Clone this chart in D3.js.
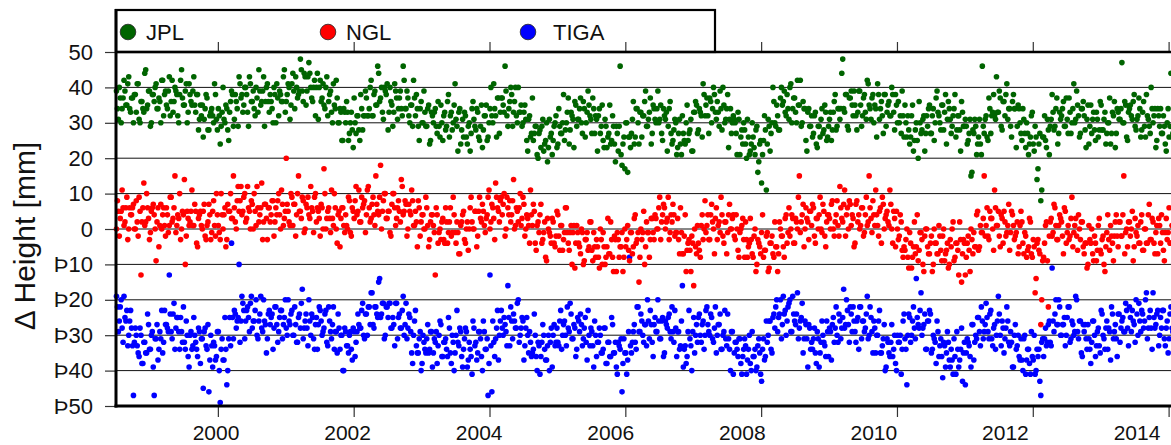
<!DOCTYPE html>
<html>
<head>
<meta charset="utf-8">
<script src="https://cdn.jsdelivr.net/npm/d3@7"></script>
<style>
  body { margin: 0; background: #fff; }
  svg { display: block; }
  text { font-family: "Liberation Sans", Arial, Helvetica, sans-serif; fill: #111; }
</style>
</head>
<body>
<svg id="chart" width="1171" height="445"></svg>
<script>
// sampling: six readings per month from July 1998, stored as two
// interleaved lists (A = 1st, 3rd, 5th reading; B = 2nd, 4th, 6th)
const startYear = 1998.5;
const slotsPerYear = 36;

const seriesNames = ['JPL', 'NGL', 'TIGA'];
const yearTicks = [2000, 2002, 2004, 2006, 2008, 2010, 2012, 2014];
const heightTicks = [-50, -40, -30, -20, -10, 0, 10, 20, 30, 40, 50];

// height differences in mm
const jplHeightsA = [
  39,31,37,34,42,35,41,34,37,30,38,41,31,36,34,44,34,39, // 1998 Jul-Dec
  29,38,36,41,34,36,42,32,39,34,43,36,33,40,38,30,42,37,35,41,33,38,35,43,33,38,31,32,26,34,37,28,33,32,41,31, // 1999
  34,24,33,31,35,28,33,39,29,38,34,43,37,33,40,38,29,41,36,34,40,33,39,36,43,36,41,33,36,30,38,41,32,38,36,45, // 2000
  36,41,31,41,39,43,37,39,45,36,43,39,47,40,36,42,40,31,42,37,35,40,32,38,33,41,34,37,30,33,25,33,36,25,30,28, // 2001
  37,27,32,25,34,32,39,32,34,42,32,39,35,44,37,33,40,38,28,40,35,33,39,31,37,34,46,34,39,32,35,29,37,38,29,34, // 2002
  30,39,29,34,24,33,30,34,27,29,35,25,33,29,38,32,28,35,31,22,34,28,26,32,24,30,27,36,29,34,26,29,23,32,35,26, // 2003
  34,32,41,32,37,27,37,35,46,32,34,40,29,36,32,40,33,29,33,31,22,32,27,25,29,21,27,23,31,24,30,23,26,21,29,32, // 2004
  24,29,27,38,28,33,24,33,31,36,29,31,37,27,34,30,39,32,27,34,32,22,34,29,25,31,23,27,24,32,24,29,22,46,18,26, // 2005
  30,16,26,27,36,26,34,24,33,32,36,29,31,37,27,34,30,39,31,27,34,31,22,34,27,25,31,21,27,24,32,25,30,25,28,22, // 2006
  33,36,27,34,32,41,32,37,27,36,34,38,31,33,39,28,35,31,38,31,27,32,30,21,31,26,24,28,20,26,22,30,23,28,16,24, // 2007
  13,25,28,24,29,27,40,30,35,28,37,35,39,32,34,40,30,37,33,42,35,29,36,34,22,34,29,26,32,24,29,26,34,28,33,26, // 2008
  31,25,33,38,29,34,34,48,33,38,28,37,35,39,32,33,39,29,37,33,42,35,31,38,35,26,38,34,32,38,29,35,32,40,33,38, // 2009
  30,30,27,32,35,26,28,26,35,25,30,20,30,28,32,27,29,35,27,34,30,39,32,28,35,33,24,36,31,29,34,26,32,28,36,29, // 2010
  31,24,27,15,28,31,21,26,24,46,27,32,25,34,32,38,31,33,39,29,36,32,41,34,29,36,34,23,35,30,25,31,23,27,24,32, // 2011
  24,29,14,24,8,26,32,23,28,29,38,28,34,24,33,32,36,29,31,37,27,34,30,39,32,27,34,32,23,35,29,27,33,25,31,28, // 2012
  35,28,33,27,30,24,33,36,27,33,31,47,30,35,25,34,32,36,29,31,37,26,33,29,38,31,27,34,32,23,34,29,27,32,24,30, // 2013
  26,44,27 // 2014 Jan
];
const jplHeightsB = [
  34,40,30,37,39,35,43,33,37,38,33,41,30,36,33,45,35,39, // 1998 Jul-Dec
  30,38,40,34,37,30,42,38,35,39,32,42,36,39,32,38,45,35,39,30,41,36,39,35,38,28,35,35,31,38,28,32,34,30,38,28, // 1999
  32,29,40,30,34,25,36,38,31,36,29,41,38,35,40,33,43,36,39,32,37,45,35,39,29,40,36,38,34,40,30,37,39,36,43,33, // 2000
  38,40,35,44,34,40,38,48,39,44,35,43,44,37,40,32,44,40,36,41,34,43,36,39,30,35,42,30,34,25,34,30,33,27,33,23, // 2001
  30,32,28,38,28,32,37,32,40,32,38,35,46,36,40,31,39,41,33,36,29,41,37,34,39,32,42,34,37,30,35,42,32,34,25,36, // 2002
  30,33,29,35,25,32,33,29,36,26,30,32,28,36,26,33,30,41,29,33,24,31,33,26,29,22,34,31,28,33,25,35,28,32,25,30, // 2003
  40,30,34,26,37,33,37,33,39,29,36,38,33,40,30,33,35,30,35,25,31,26,37,27,29,20,28,29,22,25,19,31,27,25,30,23, // 2004
  34,27,30,25,30,37,28,32,23,35,31,34,30,36,26,33,35,31,37,27,31,32,27,35,23,29,26,35,25,29,19,27,29,21,24,17, // 2005
  30,26,23,31,24,34,30,33,26,32,39,29,33,24,35,31,34,30,35,25,32,33,29,36,24,28,30,23,31,21,27,24,35,27,31,22, // 2006
  33,35,28,33,26,38,35,32,37,30,40,33,36,29,34,40,30,34,23,34,30,31,27,33,21,28,30,24,31,21,24,26,21,29,19,25, // 2007
  21,32,11,31,22,30,36,29,32,28,40,36,33,38,31,41,34,37,30,35,42,30,34,25,33,29,32,27,33,23,29,31,27,35,25,29, // 2008
  33,28,36,28,34,31,44,34,38,29,37,39,32,35,28,39,35,32,38,31,41,34,37,30,34,41,31,36,27,38,33,36,32,38,28,35, // 2009
  36,32,39,26,30,32,24,32,22,28,25,36,27,31,22,32,34,27,32,25,37,33,30,35,28,38,31,34,27,32,38,28,32,22,33,29, // 2010
  29,25,31,16,27,29,24,31,21,29,31,26,37,27,33,32,43,33,37,28,36,38,31,34,26,38,34,29,34,27,34,27,30,21,26,33, // 2011
  22,26,17,27,11,26,25,31,21,31,33,29,37,27,31,34,29,37,27,33,30,41,31,35,26,34,36,28,31,24,35,31,28,33,26,36, // 2012
  28,31,24,30,37,27,32,23,34,31,34,30,36,26,33,35,31,38,28,32,34,28,36,26,32,29,40,30,34,25,32,34,27,29,22,34, // 2013
  29,26,31 // 2014 Jan
];

const nglHeightsA = [
  0,5,3,11,1,6,-3,6,4,7,0,2,9,-13,6,1,10,3, // 1998 Jul-Dec
  -1,6,4,-9,6,1,0,6,-2,4,1,9,3,15,1,3,-3,5,14,-2,3,2,11,1,5,-5,4,1,5,-2,1,7,-3,5,1,10, // 1999
  1,-3,4,4,-5,7,5,3,15,2,8,5,12,5,10,3,6,0,7,10,1,6,4,13,2,7,-3,6,4,8,2,4,10,0,7,3, // 2000
  20,5,1,9,7,-2,10,5,3,8,0,6,4,12,5,9,2,5,-2,6,17,0,5,3,11,1,6,-4,5,3,6,-1,1,9,-1,6, // 2001
  3,12,5,2,9,7,-1,11,6,3,9,1,7,4,18,5,10,3,5,-1,7,10,1,6,5,14,4,8,-2,7,4,8,1,2,8,-2, // 2002
  4,0,9,1,-3,4,1,-13,4,-1,-3,3,-4,2,-1,6,-1,4,-4,-1,-7,2,5,-4,2,0,9,0,5,-5,5,3,7,1,3,9, // 2003
  0,7,3,13,6,2,9,7,-2,9,4,2,8,0,6,2,10,3,7,0,3,-4,4,7,-4,1,-1,7,-3,2,-9,0,-2,3,-4,-2, // 2004
  4,-6,1,-3,6,-1,-6,1,-1,-11,1,-4,-7,-1,-9,-3,-6,2,-6,-1,-8,-5,-11,-3,-1,-10,-5,-7,2,-8,-2,-12,-3,-5,-1,-8, // 2005
  -5,1,-9,-1,-5,4,-3,-15,0,-1,-10,2,-1,-3,3,-3,3,0,9,2,7,0,3,-3,4,7,-2,-1,-3,6,-7,-2,-12,-4,-6,-2, // 2006
  -16,-5,1,-6,1,-3,8,1,-3,4,2,-7,6,1,-1,4,-4,2,-1,7,0,4,-3,0,-8,0,3,-8,-3,-5,3,-7,-2,-12,-3,-5, // 2007
  -1,-8,-6,-1,-11,-4,-7,2,-5,-7,0,-2,-8,4,-1,-2,4,-4,3,0,15,2,7,0,3,-3,5,7,-2,3,0,9,-1,5,-5,4, // 2008
  3,7,0,2,8,-2,6,2,11,4,0,7,4,-5,7,2,0,6,-2,4,1,15,3,8,1,4,-2,6,9,0,4,2,11,0,5,-5, // 2009
  0,-2,2,-8,-6,0,-11,-4,-8,2,-5,-9,-1,-3,-12,0,-5,-7,-2,-10,-4,-7,1,-6,-2,-9,-6,-11,-3,0,-9,-4,-6,2,-15,-3, // 2010
  -13,-4,-6,0,-7,-5,4,-6,1,-1,15,1,-2,5,3,-6,6,1,-2,4,-4,2,-1,7,-1,4,-3,-1,-7,1,2,-7,-2,-6,3,-7, // 2011
  -3,-18,-4,-6,-27,-9,-4,2,-22,2,-2,7,1,-3,4,2,-7,5,-1,-3,3,-5,1,-2,4,-3,2,-7,-4,-10,-3,0,-9,-4,-6,3, // 2012
  -7,-2,-12,-1,-3,1,-4,-2,4,-5,2,-2,15,-1,-5,2,0,-9,3,-2,-4,2,-6,0,-4,4,-3,3,-4,-1,-7,1,4,-6,-1,-3, // 2013
  6,-4,1 // 2014 Jan
];
const nglHeightsB = [
  8,-2,5,6,2,9,0,4,6,0,8,-2,5,2,13,2,6,-3, // 1998 Jul-Dec
  5,7,0,2,-5,7,4,1,6,-1,9,2,6,-1,4,10,0,4,-10,5,1,5,1,7,-4,3,5,0,7,-3,2,4,-1,8,-2,4, // 1999
  -1,10,0,6,-3,5,10,3,6,0,12,8,4,9,2,12,5,8,0,5,12,2,6,-3,7,3,6,2,8,-2,6,8,4,11,1,5, // 2000
  7,2,10,1,7,4,15,5,9,-1,7,9,3,6,-1,10,6,3,7,0,10,3,6,-1,3,10,0,4,-5,6,1,4,0,8,-2,5, // 2001
  8,4,11,2,6,8,4,12,2,7,4,15,5,9,0,8,10,3,5,-2,10,6,3,8,2,12,5,7,0,5,11,1,5,-5,6,2, // 2002
  4,0,6,-5,2,4,-1,6,-4,0,2,-3,6,-4,2,-2,9,-1,2,-7,1,4,-3,0,-6,6,2,0,5,-2,9,2,5,-1,4,11, // 2003
  2,6,-3,9,5,8,4,10,0,6,8,4,14,1,5,6,1,9,-2,4,1,11,1,5,-6,2,4,-4,-1,-8,3,-1,-4,2,-5,5, // 2004
  -2,1,-6,-1,6,-4,-1,-10,1,-4,-1,-5,0,-10,-3,-1,-5,2,-9,-5,-3,-8,0,-10,-5,-8,3,-7,-3,-12,-3,-1,-8,-5,-12,0, // 2005
  -3,-6,-1,-7,3,-4,-1,-8,-3,5,-5,-1,-8,3,-1,4,0,6,-3,4,6,2,9,-1,2,4,-1,3,-7,-1,-7,4,-6,-3,-12,-4, // 2006
  0,-7,-4,-8,4,0,-1,4,-3,7,0,3,-3,2,9,-2,2,-7,4,0,3,-2,4,-6,-1,1,-3,2,-8,-4,-3,-8,0,-10,-4,-7, // 2007
  4,-6,-2,-12,-4,-2,-8,-5,-12,2,-2,-5,3,-4,6,0,3,-4,2,9,-1,4,-5,6,2,5,1,6,-4,3,4,0,7,-2,2,4, // 2008
  0,8,-2,4,1,12,3,7,-2,6,8,1,3,-4,8,4,1,6,-1,9,2,6,-1,4,11,1,5,-4,7,3,5,1,7,-4,3,5, // 2009
  -3,4,-6,-5,-3,-8,-1,-11,-5,-7,4,-6,-1,-10,-2,0,-7,-4,-12,0,-4,-7,-2,-9,0,-7,-4,-10,-5,2,-8,-4,-13,-3,-7,-4, // 2010
  -8,-2,-12,-3,-1,-5,5,-5,-1,3,-2,6,-3,3,0,11,1,5,-5,3,5,-2,1,-6,5,1,-2,2,-5,5,-4,-1,-8,-5,2,-8, // 2011
  -5,-14,-3,-7,-20,-8,1,-9,-2,3,-1,6,-3,1,3,-2,6,-4,1,-2,9,-1,3,-6,0,2,-5,-4,-11,1,-4,-7,-2,-9,1,-6, // 2012
  -3,-10,-5,4,-6,-2,-9,2,-2,2,-2,4,-7,0,2,-2,5,-5,-1,1,-4,4,-6,0,-4,7,-3,2,-7,1,3,-4,-1,-9,3,-1, // 2013
  -4,1,-6 // 2014 Jan
];

const tigaHeightsA = [
  -19,-29,-22,-28,-19,-26,-33,-26,-28,-47,-28,-33,-36,-30,-38,-32,-35,-27, // 1998 Jul-Dec
  -34,-29,-47,-31,-37,-29,-23,-32,-27,-28,-13,-29,-24,-34,-25,-29,-25,-32,-32,-26,-36,-30,-34,-25,-32,-36,-29,-31,-45,-28,-34,-46,-30,-39,-33,-36, // 1999
  -29,-49,-31,-37,-34,-40,-25,-4,-31,-24,-26,-10,-26,-21,-31,-23,-25,-21,-28,-26,-20,-31,-24,-28,-20,-27,-31,-23,-25,-34,-22,-27,-29,-23,-31,-25, // 2000
  -28,-20,-27,-23,-30,-27,-32,-24,-21,-31,-26,-28,-20,-30,-25,-34,-25,-27,-23,-30,-28,-23,-33,-26,-31,-22,-29,-35,-28,-30,-40,-28,-33,-35,-29,-37, // 2001
  -29,-32,-24,-28,-23,-30,-24,-30,-22,-18,-27,-22,-24,-15,-25,-21,-31,-22,-25,-21,-28,-27,-21,-31,-24,-28,-19,-27,-31,-24,-29,-38,-26,-33,-35,-29, // 2002
  -38,-32,-35,-27,-34,-29,-35,-32,-38,-30,-27,-36,-32,-34,-25,-35,-30,-40,-30,-32,-28,-36,-34,-28,-39,-32,-36,-26,-33,-37,-29,-31,-40,-29,-34,-47, // 2003
  -13,-46,-32,-31,-23,-30,-23,-30,-27,-33,-25,-22,-31,-26,-28,-20,-30,-25,-37,-28,-30,-29,-36,-34,-30,-40,-33,-36,-27,-34,-37,-30,-32,-39,-27,-32, // 2004
  -32,-26,-34,-27,-30,-22,-29,-24,-31,-28,-34,-26,-24,-33,-28,-32,-23,-33,-29,-39,-30,-32,-28,-35,-34,-28,-38,-32,-36,-27,-35,-39,-32,-34,-46,-31, // 2005
  -35,-37,-8,-35,-29,-32,-22,-29,-24,-30,-27,-33,-26,-23,-32,-27,-29,-20,-31,-26,-36,-26,-28,-24,-31,-29,-23,-36,-29,-33,-16,-34,-38,-29,-31,-40, // 2006
  -25,-30,-32,-24,-32,-26,-30,-22,-29,-24,-31,-28,-35,-27,-24,-34,-29,-31,-24,-34,-29,-41,-32,-34,-31,-38,-36,-31,-41,-34,-38,-29,-36,-40,-33,-35, // 2007
  -43,-31,-36,-32,-26,-34,-25,-28,-20,-25,-20,-27,-24,-30,-22,-20,-29,-24,-27,-18,-28,-25,-35,-26,-31,-27,-34,-34,-28,-38,-31,-35,-26,-32,-36,-29, // 2008
  -28,-37,-25,-28,-30,-24,-31,-25,-28,-20,-27,-22,-29,-26,-32,-25,-22,-31,-26,-28,-19,-30,-25,-35,-28,-30,-26,-35,-33,-27,-39,-32,-36,-27,-34,-38, // 2009
  -30,-32,-41,-26,-31,-44,-24,-32,-26,-28,-14,-27,-23,-30,-27,-34,-26,-23,-35,-30,-32,-26,-36,-31,-42,-33,-35,-32,-39,-37,-31,-41,-34,-37,-28,-35, // 2010
  -44,-31,-33,-39,-27,-32,-31,-25,-33,-26,-29,-21,-29,-24,-31,-28,-34,-26,-24,-33,-28,-31,-22,-32,-29,-39,-30,-34,-30,-37,-37,-31,-41,-34,-38,-29, // 2011
  -37,-41,-34,-34,-47,-31,-31,-33,-27,-32,-11,-29,-20,-27,-22,-30,-27,-33,-25,-22,-31,-27,-29,-20,-31,-26,-36,-29,-31,-27,-34,-32,-26,-36,-29,-33, // 2012
  -23,-30,-34,-26,-28,-37,-24,-29,-31,-24,-32,-26,-29,-21,-28,-22,-29,-26,-32,-24,-21,-29,-24,-26,-18,-28,-23,-34,-25,-27,-23,-30,-28,-23,-33,-26, // 2013
  -31,-22,-29 // 2014 Jan
];
const tigaHeightsB = [
  -22,-26,-20,-32,-25,-23,-30,-23,-33,-32,-30,-35,-28,-38,-32,-35,-24,-34, // 1998 Jul-Dec
  -30,-39,-31,-27,-34,-31,-35,-23,-27,-29,-24,-31,-21,-28,-25,-34,-29,-22,-34,-30,-39,-29,-33,-30,-34,-28,-38,-31,-29,-33,-27,-37,-33,-32,-37,-29, // 1999
  -40,-34,-37,-25,-44,-31,-33,-25,-23,-28,-25,-32,-19,-23,-26,-22,-29,-19,-26,-23,-30,-26,-19,-29,-26,-35,-24,-27,-24,-28,-22,-32,-25,-23,-27,-20, // 2000
  -30,-26,-24,-30,-22,-32,-25,-28,-17,-28,-24,-33,-26,-24,-31,-27,-34,-22,-26,-29,-24,-32,-22,-29,-27,-34,-29,-24,-34,-30,-40,-29,-33,-30,-34,-28, // 2001
  -36,-29,-27,-28,-21,-31,-24,-22,-27,-18,-28,-22,-25,-14,-24,-21,-30,-22,-21,-28,-25,-33,-21,-25,-28,-23,-30,-21,-28,-25,-35,-30,-23,-35,-31,-40, // 2002
  -30,-34,-31,-35,-29,-39,-31,-29,-33,-26,-36,-32,-31,-36,-28,-38,-32,-35,-23,-33,-29,-39,-31,-29,-37,-34,-41,-28,-32,-35,-29,-36,-26,-34,-31,-38, // 2003
  -33,-26,-36,-28,-37,-26,-28,-25,-29,-16,-33,-26,-24,-28,-21,-32,-28,-26,-33,-25,-35,-32,-35,-24,-36,-32,-41,-32,-30,-37,-33,-40,-28,-30,-33,-28, // 2004
  -33,-23,-30,-26,-33,-28,-21,-31,-27,-36,-25,-29,-27,-31,-25,-37,-30,-28,-33,-26,-36,-32,-30,-35,-28,-38,-32,-36,-25,-35,-32,-41,-33,-31,-38,-35, // 2005
  -41,-29,-33,-32,-27,-34,-22,-29,-26,-32,-27,-20,-31,-27,-36,-25,-29,-26,-31,-25,-35,-27,-25,-29,-22,-32,-28,-29,-34,-26,-39,-33,-36,-23,-33,-29, // 2006
  -35,-27,-25,-30,-27,-34,-23,-27,-30,-25,-32,-22,-30,-27,-34,-30,-23,-33,-31,-40,-29,-35,-32,-36,-31,-41,-34,-33,-37,-30,-40,-36,-34,-39,-31,-41, // 2007
  -34,-37,-26,-30,-26,-35,-24,-22,-29,-24,-31,-19,-23,-26,-21,-29,-19,-26,-24,-31,-26,-21,-31,-27,-39,-28,-32,-31,-35,-29,-39,-32,-30,-33,-26,-36, // 2008
  -29,-27,-32,-22,-32,-26,-28,-17,-27,-23,-32,-24,-22,-29,-26,-34,-22,-26,-29,-24,-31,-22,-29,-26,-35,-30,-23,-35,-31,-40,-31,-35,-32,-36,-30,-40, // 2009
  -32,-30,-34,-24,-34,-30,-25,-30,-22,-31,-25,-28,-18,-28,-24,-34,-26,-24,-34,-31,-38,-29,-33,-36,-32,-39,-29,-37,-34,-41,-36,-29,-39,-34,-43,-32, // 2010
  -35,-32,-36,-27,-37,-30,-25,-29,-22,-31,-27,-25,-31,-23,-33,-27,-30,-19,-30,-26,-35,-28,-26,-33,-32,-39,-27,-33,-36,-31,-40,-30,-37,-34,-41,-36, // 2011
  -30,-40,-36,-43,-32,-36,-28,-32,-26,-33,-26,-24,-27,-20,-30,-27,-25,-30,-22,-32,-26,-30,-19,-29,-26,-35,-27,-27,-34,-31,-38,-26,-30,-33,-28,-35, // 2012
  -24,-31,-28,-34,-29,-22,-31,-27,-36,-24,-28,-25,-29,-23,-33,-25,-23,-27,-20,-30,-26,-23,-28,-20,-31,-25,-28,-18,-28,-24,-33,-25,-23,-31,-28,-35, // 2013
  -24,-28,-31 // 2014 Jan
];

const colors = { JPL: '#006400', NGL: '#ff0000', TIGA: '#0000ff' };
const heightsByName = {
    JPL: [jplHeightsA, jplHeightsB],
    NGL: [nglHeightsA, nglHeightsB],
    TIGA: [tigaHeightsA, tigaHeightsB]
};

const chartWidth = 1171,
    plotLeft = 116, plotTop = 52, plotBottom = 406;

const svg = d3.select('#chart');

const x = d3.scaleLinear().domain([1998.5, 2014.05]).range([plotLeft, 1172]),
    // the year labels in the original sit slightly off their ticks
    xLabel = d3.scaleLinear().domain([2000, 2014]).range([216, 1137]),
    y = d3.scaleLinear().domain([-50, 50]).range([plotBottom, plotTop]);

const fmt = v => v < 0 ? '\u00de' + Math.abs(v) : String(v);

// grid
svg.append('g')
    .selectAll('line')
    .data(heightTicks.filter(v => v > -50 && v < 50))
    .join('line')
    .attr('x1', plotLeft).attr('x2', chartWidth)
    .attr('y1', y).attr('y2', y)
    .attr('stroke', '#111')
    .attr('stroke-width', 1);

// points, TIGA underneath, JPL on top
seriesNames.slice().reverse().forEach(name => {
    const [listA, listB] = heightsByName[name];
    const points = listA.map((v, i) => ({ t: startYear + (i + 0.25) / slotsPerYear, v }))
        .concat(listB.map((v, i) => ({ t: startYear + (i + 0.75) / slotsPerYear, v })));
    svg.append('g')
        .attr('fill', colors[name])
        .selectAll('circle')
        .data(points)
        .join('circle')
        .attr('cx', d => x(d.t))
        .attr('cy', d => y(d.v))
        .attr('r', 2.8);
});

// legend box
const legend = svg.append('g');
legend.append('rect')
    .attr('x', plotLeft).attr('y', 10)
    .attr('width', 599).attr('height', plotTop - 10)
    .attr('fill', '#fff')
    .attr('stroke', '#000')
    .attr('stroke-width', 2.2);

const legendX = d3.scalePoint().domain(seriesNames).range([128, 528]);
legend.selectAll('g.item')
    .data(seriesNames)
    .join('g')
    .attr('class', 'item')
    .attr('transform', d => `translate(${legendX(d)},32)`)
    .call(g => g.append('circle')
        .attr('r', 7.8)
        .attr('fill', d => colors[d])
        .attr('stroke', '#222')
        .attr('stroke-width', 0.8))
    .call(g => g.append('text')
        .attr('x', (d, i) => i === 2 ? 25 : 18)
        .attr('y', 8)
        .attr('font-size', 22)
        .text(d => d));

// y axis
svg.append('g')
    .attr('transform', `translate(${plotLeft},0)`)
    .call(d3.axisLeft(y).tickValues(heightTicks).tickFormat(fmt).tickSize(11).tickPadding(12))
    .call(g => g.select('.domain').remove())
    .call(g => g.selectAll('.tick line').attr('stroke', '#333').attr('stroke-width', 1.2))
    .call(g => g.selectAll('.tick text')
        .attr('font-size', 22)
        .attr('font-family', '"Liberation Sans", Arial, sans-serif')
        .attr('fill', '#111'));

// x axis, ticks only; labels drawn below
svg.append('g')
    .attr('transform', `translate(0,${plotBottom})`)
    .call(d3.axisBottom(x).tickValues(yearTicks).tickFormat('').tickSize(11))
    .call(g => g.select('.domain').remove())
    .call(g => g.selectAll('.tick line').attr('stroke', '#333').attr('stroke-width', 1.2));

svg.append('g')
    .attr('transform', `translate(0,${plotTop})`)
    .call(d3.axisTop(x).tickValues(yearTicks).tickFormat('').tickSize(10))
    .call(g => g.select('.domain').remove())
    .call(g => g.selectAll('.tick line').attr('stroke', '#333').attr('stroke-width', 1.2));

svg.append('g')
    .selectAll('text')
    .data(yearTicks)
    .join('text')
    .attr('x', xLabel)
    .attr('y', 440)
    .attr('text-anchor', 'middle')
    .attr('font-size', 21)
    .text(d => d);

// frame
svg.append('line')
    .attr('x1', plotLeft).attr('x2', chartWidth)
    .attr('y1', plotTop).attr('y2', plotTop)
    .attr('stroke', '#000').attr('stroke-width', 2.5);
svg.append('line')
    .attr('x1', plotLeft - 1.5).attr('x2', chartWidth)
    .attr('y1', plotBottom).attr('y2', plotBottom)
    .attr('stroke', '#000').attr('stroke-width', 3);
svg.append('line')
    .attr('x1', plotLeft).attr('x2', plotLeft)
    .attr('y1', 9).attr('y2', plotBottom + 1.5)
    .attr('stroke', '#000').attr('stroke-width', 3);

// y title
svg.append('text')
    .attr('transform', 'translate(35,236) rotate(-90)')
    .attr('text-anchor', 'middle')
    .attr('font-size', 30)
    .text('\u0394 Height [mm]');
</script>
</body>
</html>
